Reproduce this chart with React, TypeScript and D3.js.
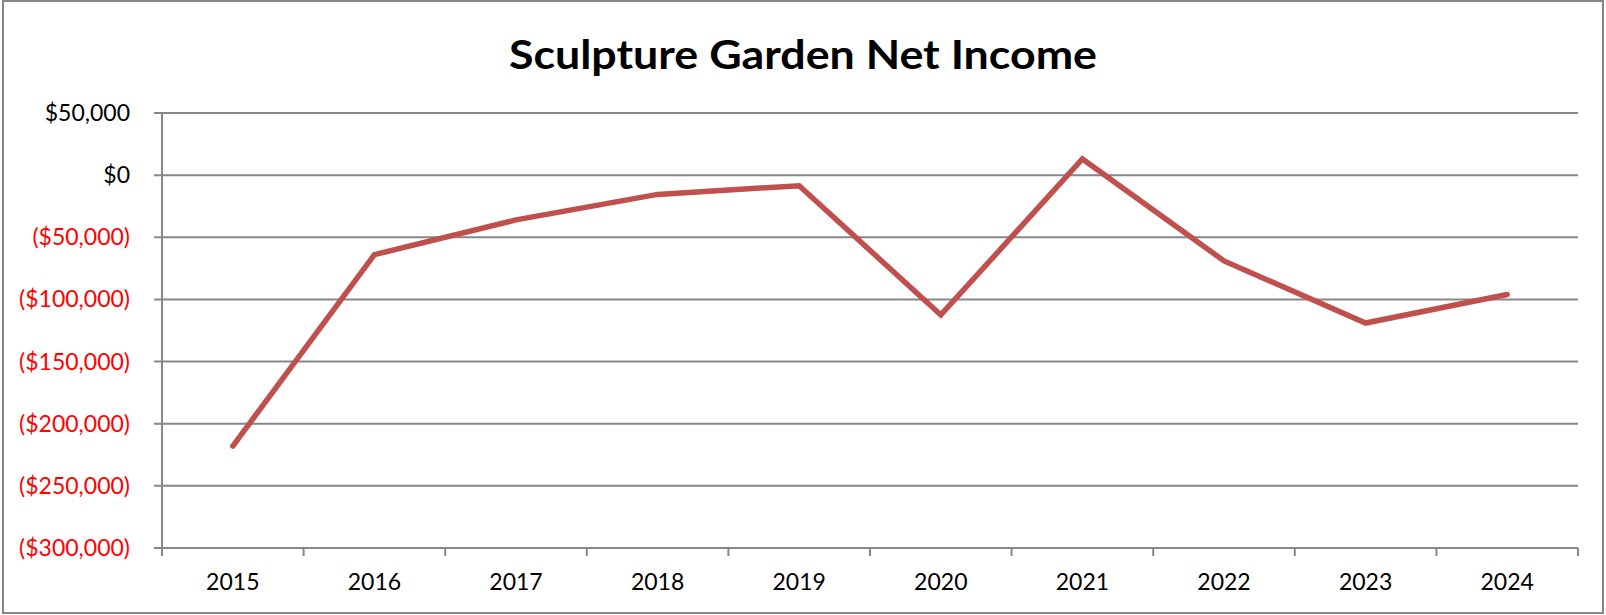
import React from "react";
import * as d3 from "d3";

const years = ["2015", "2016", "2017", "2018", "2019", "2020", "2021", "2022", "2023", "2024"];
const netIncome = [-218000, -64000, -36000, -15500, -8500, -112500, 13000, -69000, -119000, -96000];
const yTicks = [50000, 0, -50000, -100000, -150000, -200000, -250000, -300000];

const W = 1606;
const H = 615;
const left = 162;
const right = 1578;
const top = 113;
const bottom = 548;
const gridColor = "#878787";
const font = "Lato, 'Open Sans', sans-serif";

const fmt = (v: number) => {
  const s = "$" + d3.format(",")(Math.abs(v));
  return v < 0 ? `(${s})` : s;
};

const App = () => {
  const x = d3.scaleBand<string>().domain(years).range([left, right]);
  const y = d3.scaleLinear().domain([-300000, 50000]).range([bottom, top]);
  const line = d3
    .line<number>()
    .x((_, i) => (x(years[i]) ?? 0) + x.bandwidth() / 2)
    .y((d) => y(d));

  const boundaries = years.map((yr) => x(yr) ?? 0).concat([right]);

  return (
    <svg
      width={W}
      height={H}
      style={{ position: "absolute", left: 0, top: 0, background: "#fff" }}
    >
      <rect x={3} y={1} width={W - 6} height={H - 3} fill="#fff" stroke={gridColor} strokeWidth={2} />
      <text
        x={803}
        y={69}
        textAnchor="middle"
        fontFamily={font}
        fontWeight="bold"
        fontSize={40}
        textLength={588}
        lengthAdjust="spacingAndGlyphs"
        fill="#000"
      >
        Sculpture Garden Net Income
      </text>

      {yTicks.map((t) => (
        <g key={t}>
          <line x1={left - 8} x2={right} y1={y(t)} y2={y(t)} stroke={gridColor} strokeWidth={2} />
          <text
            x={130}
            y={y(t)}
            dy="0.35em"
            textAnchor="end"
            fontFamily={font}
            fontSize={23}
            fill={t < 0 ? "#ff0000" : "#000"}
          >
            {fmt(t)}
          </text>
        </g>
      ))}

      <line x1={left} x2={left} y1={top} y2={bottom + 8} stroke={gridColor} strokeWidth={2} />
      {boundaries.map((b, i) => (
        <line key={i} x1={b} x2={b} y1={bottom} y2={bottom + 8} stroke={gridColor} strokeWidth={2} />
      ))}

      {years.map((yr) => (
        <text
          key={yr}
          x={(x(yr) ?? 0) + x.bandwidth() / 2}
          y={590}
          textAnchor="middle"
          fontFamily={font}
          fontSize={23}
          fill="#000"
        >
          {yr}
        </text>
      ))}

      <path
        d={line(netIncome) ?? ""}
        fill="none"
        stroke="#c0504d"
        strokeWidth={5.5}
        strokeLinejoin="miter"
        strokeLinecap="round"
      />
    </svg>
  );
};

export default App;
